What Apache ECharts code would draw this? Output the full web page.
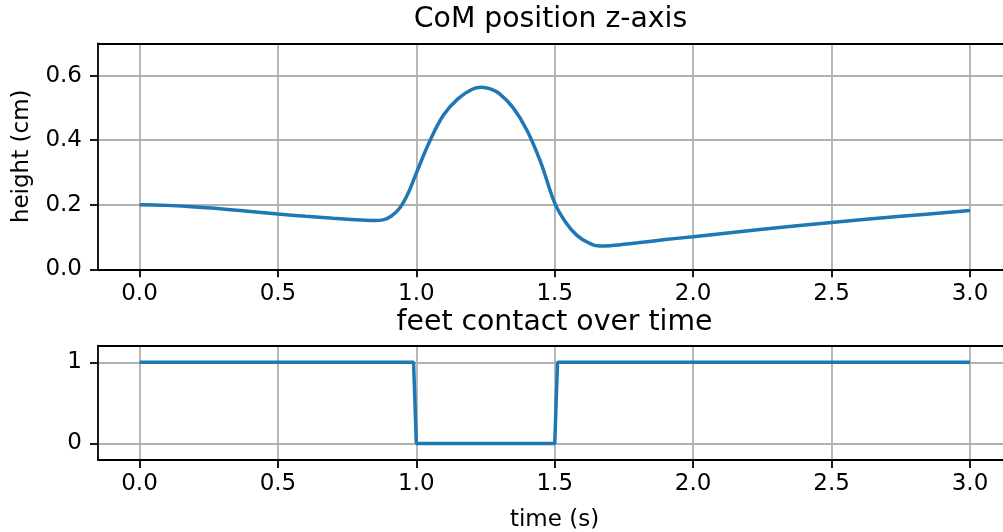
<!DOCTYPE html>
<html>
<head>
<meta charset="utf-8">
<script src="https://cdn.jsdelivr.net/npm/echarts@6/dist/echarts.min.js"></script>
<style>
  html, body { margin: 0; padding: 0; background: #fff; overflow: hidden; }
  /* the right-hand part of both panels runs past the window edge */
  #chart { width: 1024px; height: 532px; }
</style>
</head>
<body>
<div id="chart"></div>
<script>
// Centre-of-mass height over time: [time (s), height (cm)]
const comTime   = [0.00, 0.10, 0.20, 0.30, 0.40, 0.50, 0.60, 0.70, 0.80, 0.85, 0.88, 0.91, 0.94, 0.97,
                   1.00, 1.05, 1.10, 1.15, 1.20, 1.235, 1.27, 1.30, 1.35, 1.40, 1.45, 1.50, 1.54,
                   1.58, 1.62, 1.66, 1.70, 1.80, 1.90, 2.00, 2.25, 2.50, 2.75, 3.00];
const comHeight = [0.200, 0.198, 0.193, 0.187, 0.179, 0.171, 0.164, 0.158, 0.153, 0.151, 0.153, 0.165, 0.190, 0.235,
                   0.298, 0.400, 0.480, 0.528, 0.557, 0.564, 0.558, 0.544, 0.500, 0.430, 0.330, 0.205, 0.145,
                   0.105, 0.083, 0.072, 0.073, 0.082, 0.092, 0.101, 0.124, 0.145, 0.164, 0.182];

// Feet contact flag over time
const contactTime  = [0.00, 0.99, 1.00, 1.50, 1.51, 3.00];
const contactValue = [1, 1, 0, 0, 1, 1];

// Tick labels
const timeTicks    = [0.0, 0.5, 1.0, 1.5, 2.0, 2.5, 3.0];
const heightTicks  = [0.0, 0.2, 0.4, 0.6];
const contactTicks = [0, 1];

const FONT = '"DejaVu Sans", sans-serif';
const BLUE = '#1f77b4';
const GRID_GREY = '#b0b0b0';
const TICK_SIZE = 23;
const TITLE_SIZE = 28.3;
const SPINE = { color: '#000', width: 1.8 };

const plotLeft = 98;
const plotWidth = 913.5;

function pairs(xs, ys) { return xs.map((x, i) => [x, ys[i]]); }

function xAxisFor(gridIndex) {
  return {
    type: 'value', gridIndex: gridIndex, min: -0.15, max: 3.15,
    axisLine: { show: true, onZero: false, lineStyle: SPINE },
    axisTick: { show: true, inside: false, length: 8, customValues: timeTicks, lineStyle: SPINE },
    axisLabel: { show: true, customValues: timeTicks, margin: 13, color: '#000', fontFamily: FONT, fontSize: TICK_SIZE,
                 formatter: v => v.toFixed(1) },
    splitLine: { show: true, customValues: timeTicks, lineStyle: { color: GRID_GREY, width: 1.8 } }
  };
}

// top spine of each panel
function topSpineFor(gridIndex) {
  return {
    type: 'value', gridIndex: gridIndex, position: 'top', min: -0.15, max: 3.15,
    axisLine: { show: true, onZero: false, lineStyle: SPINE },
    axisTick: { show: false }, axisLabel: { show: false }, splitLine: { show: false }
  };
}

function yAxisFor(gridIndex, min, max, ticks, fmt) {
  return {
    type: 'value', gridIndex: gridIndex, min: min, max: max,
    axisLine: { show: true, onZero: false, lineStyle: SPINE },
    axisTick: { show: true, inside: false, length: 8, customValues: ticks, lineStyle: SPINE },
    axisLabel: { show: true, customValues: ticks, margin: 16, color: '#000', fontFamily: FONT, fontSize: TICK_SIZE,
                 formatter: fmt },
    splitLine: { show: true, customValues: ticks, lineStyle: { color: GRID_GREY, width: 1.8 } }
  };
}

const chart = echarts.init(document.getElementById('chart'), null, { renderer: 'canvas' });

chart.setOption({
  animation: false,
  backgroundColor: '#fff',
  grid: [
    { left: plotLeft, top: 43.3, width: plotWidth, height: 226, outerBoundsMode: 'none', containLabel: false, show: false },
    { left: plotLeft, top: 345.7, width: plotWidth, height: 114.3, outerBoundsMode: 'none', containLabel: false, show: false }
  ],
  xAxis: [xAxisFor(0), xAxisFor(1), topSpineFor(0), topSpineFor(1)],
  yAxis: [
    yAxisFor(0, 0, 0.7, heightTicks, v => v.toFixed(1)),
    yAxisFor(1, -0.205, 1.205, contactTicks, v => String(Math.round(v)))
  ],
  series: [
    {
      type: 'line', xAxisIndex: 0, yAxisIndex: 0,
      data: pairs(comTime, comHeight),
      smooth: 0.4, showSymbol: false,
      lineStyle: { color: BLUE, width: 3.5 }
    },
    {
      type: 'line', xAxisIndex: 1, yAxisIndex: 1,
      data: pairs(contactTime, contactValue),
      smooth: false, showSymbol: false,
      lineStyle: { color: BLUE, width: 3.5 }
    }
  ],
  graphic: [
    { type: 'text', x: 550.5, y: 19.5, style: { text: 'CoM position z-axis', font: TITLE_SIZE + 'px ' + FONT, fill: '#000', textAlign: 'center', textVerticalAlign: 'middle' } },
    { type: 'text', x: 554.5, y: 322.4, style: { text: 'feet contact over time', font: TITLE_SIZE + 'px ' + FONT, fill: '#000', textAlign: 'center', textVerticalAlign: 'middle' } },
    { type: 'text', x: 554.5, y: 520.5, style: { text: 'time (s)', font: TICK_SIZE + 'px ' + FONT, fill: '#000', textAlign: 'center', textVerticalAlign: 'middle' } },
    { type: 'text', x: 22, y: 156.3, rotation: Math.PI / 2, style: { text: 'height (cm)', font: TICK_SIZE + 'px ' + FONT, fill: '#000', textAlign: 'center', textVerticalAlign: 'middle' } }
  ]
});
</script>
</body>
</html>
